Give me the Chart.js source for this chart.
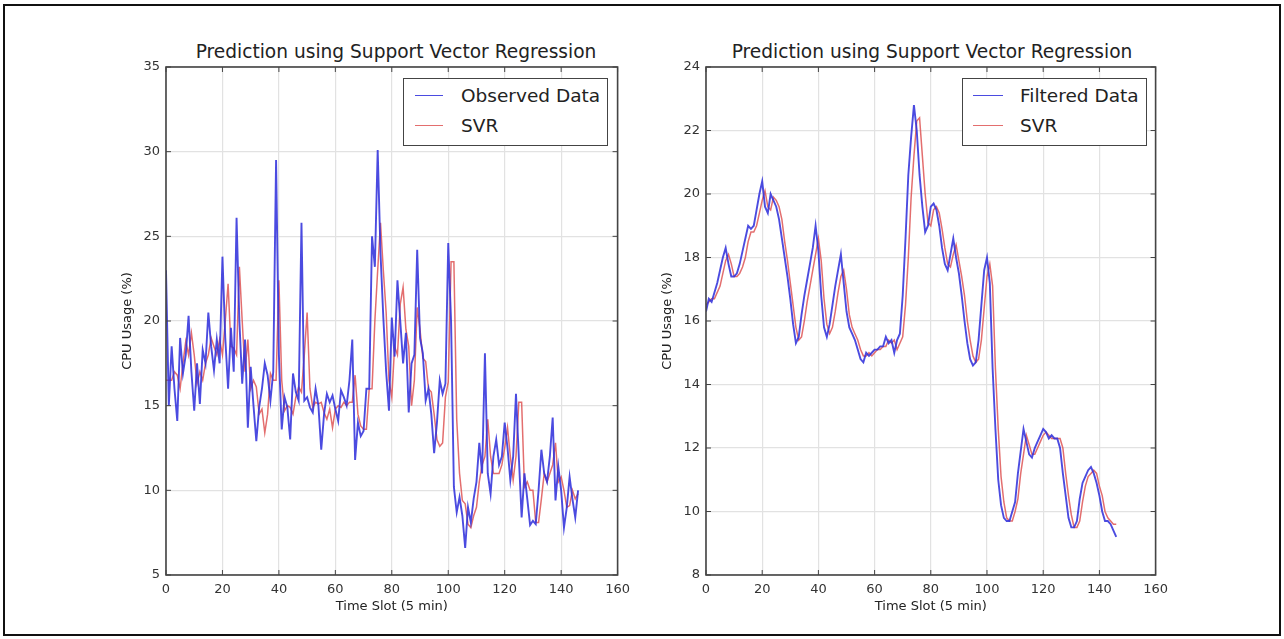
<!DOCTYPE html>
<html><head><meta charset="utf-8">
<script src="https://cdn.jsdelivr.net/npm/chart.js@4.4.1/dist/chart.umd.min.js"></script>
<style>
body{margin:0;background:#fff;width:1284px;height:639px;overflow:hidden;font-family:"DejaVu Sans",sans-serif;position:relative;}
#frame{position:absolute;left:3px;top:4px;width:1274px;height:628px;border:2px solid #111;}
canvas{position:absolute;}
.legend{position:absolute;border:1.5px solid #444;background:#fff;box-sizing:border-box;}
.lrow{position:absolute;font-size:18.5px;color:#222;line-height:22px;white-space:nowrap;}
.lline{position:absolute;height:0;}
.ttl{position:absolute;top:41px;width:600px;text-align:center;font-size:18.6px;line-height:22px;color:#222;white-space:nowrap;}
</style></head>
<body>
<div id="frame"></div>
<div class="ttl" id="t1" style="left:96px;"></div>
<div class="ttl" id="t2" style="left:632px;"></div>
<canvas id="c1" width="527" height="590" style="left:110px;top:30px;"></canvas>
<canvas id="c2" width="525" height="590" style="left:650px;top:30px;"></canvas>
<div id="legends"></div>
<script>
const TITLE = "Prediction using Support Vector Regression";
const X_LABEL = "Time Slot (5 min)";
const Y_LABEL = "CPU Usage (%)";
const X_TICKS = [0,20,40,60,80,100,120,140,160];
const Y_TICKS_LEFT = [5,10,15,20,25,30,35];
const Y_TICKS_RIGHT = [8,10,12,14,16,18,20,22,24];

const observed = [23.0,15.0,18.5,16.0,14.1,19.0,16.9,18.0,20.3,17.0,14.7,17.5,15.1,18.3,17.5,20.5,18.5,17.1,18.9,17.5,
23.8,19.0,16.0,19.6,17.0,26.1,20.0,16.3,18.9,13.7,17.3,15.0,12.9,14.9,16.0,17.5,16.8,15.3,17.0,29.5,
18.0,13.6,15.5,14.9,13.0,16.9,15.8,15.3,25.8,15.3,15.5,14.9,14.6,16.0,15.0,12.4,14.5,15.7,15.2,15.6,
14.8,14.1,15.9,15.5,15.0,16.5,18.9,11.8,14.0,13.2,13.5,16.0,16.0,25.0,23.2,30.1,24.0,20.2,17.0,14.7,
20.2,17.9,22.4,20.0,17.5,19.3,14.6,17.5,18.0,24.2,19.0,18.1,15.3,16.0,14.5,12.2,14.0,16.5,15.7,16.3,
24.6,20.0,10.2,8.7,9.6,8.5,6.6,9.0,8.1,9.5,10.5,12.8,11.0,18.1,11.0,9.8,12.0,13.0,11.5,12.0,
14.0,12.5,10.6,12.0,15.7,12.0,8.4,11.0,9.5,7.95,8.2,8.0,10.0,12.4,11.0,10.5,12.0,14.3,9.4,11.4,
10.0,7.8,9.0,10.8,9.5,8.4,10.0];

const svrLeft = [16.5,16.5,16.5,17.0,16.8,16.0,17.5,18.8,18.0,19.3,18.0,16.3,17.0,16.5,17.5,18.0,19.0,18.5,18.0,18.9,
18.0,20.0,22.2,18.5,18.4,18.0,23.2,20.0,17.0,18.9,16.0,16.5,16.1,14.5,14.8,13.4,14.5,16.9,16.5,16.5,
22.4,16.5,14.7,15.0,14.9,14.5,15.5,16.1,15.8,18.0,20.5,16.0,14.9,15.2,15.1,15.2,14.6,14.2,14.8,13.7,
14.8,15.0,14.9,15.2,15.0,15.2,15.2,16.8,14.5,13.8,13.6,13.6,16.0,16.0,20.0,23.0,25.8,23.0,20.5,16.5,
15.5,18.5,18.0,21.0,22.0,19.5,18.5,15.0,16.5,20.8,19.5,17.8,17.6,16.0,15.8,14.5,13.0,12.6,12.8,15.5,
16.4,23.5,23.5,14.2,11.0,9.4,9.2,8.0,7.8,8.5,9.0,10.5,11.5,12.0,14.2,12.0,11.0,11.0,11.0,11.5,
12.5,13.7,12.0,10.6,12.0,15.2,15.2,10.2,10.5,10.0,10.0,8.1,8.1,9.5,11.0,10.5,11.0,11.5,12.8,10.5,
10.8,10.0,9.0,9.1,10.0,9.5,9.8];

const filtered = [16.3,16.7,16.6,16.9,17.2,17.6,18.0,18.3,17.8,17.4,17.4,17.5,17.8,18.2,18.6,19.0,18.9,19.0,19.5,20.0,
20.4,19.6,19.4,20.0,19.8,19.6,19.2,18.6,18.0,17.4,16.7,15.9,15.3,15.5,16.2,16.8,17.3,17.8,18.3,19.0,
18.2,16.8,15.8,15.5,15.9,16.5,17.1,17.6,18.1,17.2,16.3,15.8,15.6,15.4,15.1,14.8,14.7,15.0,14.9,15.0,
15.1,15.1,15.2,15.2,15.5,15.3,15.4,15.0,15.4,15.6,16.8,18.6,20.6,21.8,22.8,22.0,20.6,19.6,18.8,19.0,
19.6,19.7,19.5,19.0,18.3,17.8,17.6,18.1,18.6,18.0,17.5,16.8,16.0,15.3,14.8,14.6,14.7,15.4,16.5,17.6,
18.0,17.2,14.5,12.6,11.0,10.2,9.8,9.7,9.7,10.0,10.3,11.2,11.9,12.6,12.2,11.8,11.7,12.0,12.2,12.4,
12.6,12.5,12.3,12.4,12.3,12.3,12.0,11.2,10.5,9.8,9.5,9.5,9.7,10.4,10.9,11.1,11.3,11.4,11.2,10.9,
10.5,10.0,9.7,9.7,9.6,9.4,9.2];

const svrRight = [16.5,16.6,16.7,16.7,16.9,17.1,17.5,17.9,18.1,17.8,17.4,17.4,17.5,17.7,18.0,18.5,18.8,18.8,19.0,19.4,
19.8,20.1,19.6,19.5,19.9,19.8,19.6,19.2,18.5,17.9,17.2,16.5,15.8,15.4,15.5,16.0,16.6,17.1,17.6,18.1,
18.6,17.9,16.7,15.9,15.6,15.8,16.3,16.9,17.4,17.6,17.0,16.2,15.8,15.6,15.4,15.1,14.9,14.9,15.0,14.9,
15.0,15.1,15.1,15.2,15.2,15.4,15.3,15.4,15.1,15.3,15.5,16.5,18.0,19.9,21.2,22.3,22.4,21.2,20.0,19.1,
19.0,19.5,19.6,19.4,18.9,18.3,17.8,17.7,18.1,18.4,17.9,17.4,16.8,16.0,15.4,14.9,14.7,14.8,15.4,16.4,
17.4,17.8,17.1,14.5,12.6,11.1,10.3,9.8,9.7,9.7,10.0,10.4,11.2,11.8,12.4,12.1,11.8,11.8,12.0,12.2,
12.4,12.5,12.4,12.3,12.3,12.3,12.3,12.0,11.2,10.5,9.9,9.5,9.5,9.7,10.3,10.8,11.1,11.2,11.3,11.2,
10.8,10.5,10.0,9.8,9.7,9.6,9.6];

const BLUE = 'rgba(50,50,220,0.88)';
const RED = 'rgba(222,85,85,0.85)';
const FONT = "'DejaVu Sans', sans-serif";

document.getElementById('t1').textContent = TITLE;
document.getElementById('t2').textContent = TITLE;

const boxPlugin = {
  id:'box',
  afterDraw(chart){
    const {ctx, chartArea:a, scales} = chart;
    ctx.save();
    ctx.strokeStyle = '#444'; ctx.lineWidth = 1.6;
    ctx.strokeRect(a.left, a.top, a.right-a.left, a.bottom-a.top);
    ctx.lineWidth = 1;
    const tl = 5;
    scales.x.ticks.forEach(t=>{
      const px = scales.x.getPixelForValue(t.value);
      ctx.beginPath(); ctx.moveTo(px,a.bottom); ctx.lineTo(px,a.bottom-tl);
      ctx.moveTo(px,a.top); ctx.lineTo(px,a.top+tl); ctx.stroke();
    });
    scales.y.ticks.forEach(t=>{
      const py = scales.y.getPixelForValue(t.value);
      ctx.beginPath(); ctx.moveTo(a.left,py); ctx.lineTo(a.left+tl,py);
      ctx.moveTo(a.right,py); ctx.lineTo(a.right-tl,py); ctx.stroke();
    });
    ctx.restore();
  }
};

function makeChart(id, series, yTicks){
  return new Chart(document.getElementById(id), {
    type:'line',
    data:{datasets: series.map(s=>({
      label:s.label,
      data:s.data.map((v,i)=>({x:i,y:v})),
      borderColor:s.color, borderWidth:s.width,
      pointRadius:0, tension:0, fill:false
    }))},
    options:{
      responsive:false, animation:false, devicePixelRatio:1,
      layout:{padding:{left:0,right:15,top:37,bottom:0}},
      plugins:{
        legend:{display:false}, tooltip:{enabled:false}, title:{display:false}
      },
      scales:{
        x:{type:'linear', min:X_TICKS[0], max:X_TICKS[X_TICKS.length-1],
          afterBuildTicks(s){ s.ticks = X_TICKS.map(v=>({value:v})); },
          ticks:{color:'#333', font:{family:FONT,size:13}, padding:7},
          grid:{color:'#e2e2e2', drawTicks:false, lineWidth:1.2},
          border:{display:false},
          title:{display:true, text:X_LABEL, color:'#222', font:{family:FONT,size:13}, padding:{top:2,bottom:6}},
          afterFit(s){ s.height = 45; }
        },
        y:{type:'linear', min:yTicks[0], max:yTicks[yTicks.length-1],
          afterBuildTicks(s){ s.ticks = yTicks.map(v=>({value:v})); },
          ticks:{color:'#333', font:{family:FONT,size:13}, padding:6},
          grid:{color:'#e2e2e2', drawTicks:false, lineWidth:1.2},
          border:{display:false},
          title:{display:true, text:Y_LABEL, color:'#222', font:{family:FONT,size:13}, padding:{top:10,bottom:2}},
          afterFit(s){ s.width = 56; }
        }
      }
    },
    plugins:[boxPlugin]
  });
}

const left = [
  {label:'Observed Data', data:observed, color:BLUE, width:1.9},
  {label:'SVR', data:svrLeft, color:RED, width:1.5}
];
const right = [
  {label:'Filtered Data', data:filtered, color:BLUE, width:1.9},
  {label:'SVR', data:svrRight, color:RED, width:1.5}
];
makeChart('c1', left, Y_TICKS_LEFT);
makeChart('c2', right, Y_TICKS_RIGHT);

function legend(series, box, lineX, textX){
  const L = document.getElementById('legends');
  const d = document.createElement('div');
  d.className='legend';
  Object.assign(d.style,{left:box[0]+'px',top:box[1]+'px',width:box[2]+'px',height:box[3]+'px'});
  L.appendChild(d);
  const rowsY = [96,126];
  series.forEach((s,i)=>{
    const ln = document.createElement('div');
    ln.className='lline';
    Object.assign(ln.style,{left:lineX[0]+'px',width:(lineX[1]-lineX[0])+'px',top:(rowsY[i]-1)+'px',borderTop:'1.8px solid '+s.color});
    L.appendChild(ln);
    const t = document.createElement('div');
    t.className='lrow'; t.textContent = s.label;
    Object.assign(t.style,{left:textX+'px',top:(rowsY[i]-11)+'px'});
    L.appendChild(t);
  });
}
legend(left,[403,78,205,68],[415,443],461);
legend(right,[962,78,185,68],[973,1003],1020);
</script>
</body></html>
